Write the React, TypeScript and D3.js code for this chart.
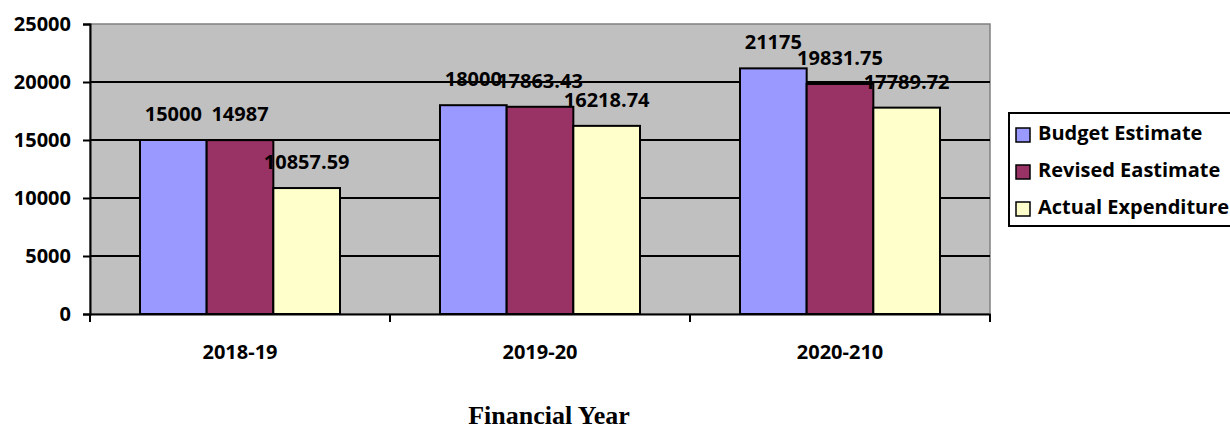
import { useEffect, useRef } from "react";
import * as d3 from "d3";

const YEARS = ["2018-19", "2019-20", "2020-210"];
const SERIES = ["Budget Estimate", "Revised Eastimate", "Actual Expenditure"];
const BUDGET = [15000, 18000, 21175];
const REVISED = [14987, 17863.43, 19831.75];
const ACTUAL = [10857.59, 16218.74, 17789.72];
const LABELS = [
  ["15000", "14987", "10857.59"],
  ["18000", "17863.43", "16218.74"],
  ["21175", "19831.75", "17789.72"],
];
const Y_TICKS = [0, 5000, 10000, 15000, 20000, 25000];
const COLORS = ["#9999FF", "#993366", "#FFFFCC"];

const W = 1230;
const H = 430;
const FONT = "'Open Sans', Lato, sans-serif";

export default function App() {
  const svgRef = useRef<SVGSVGElement>(null);

  useEffect(() => {
    if (!svgRef.current) return;
    const svg = d3.select(svgRef.current);
    svg.selectAll("*").remove();

    const left = 90;
    const right = 990;
    const top = 24;
    const bottom = 314;

    const x0 = d3.scaleBand().domain(YEARS).range([left, right]).paddingInner(1 / 3).paddingOuter(1 / 6);
    const x1 = d3.scaleBand().domain(SERIES).range([0, x0.bandwidth()]);
    const y = d3.scaleLinear().domain([0, 25000]).range([bottom, top]);

    const rows = YEARS.map((yr, i) => ({ yr, vals: [BUDGET[i], REVISED[i], ACTUAL[i]], labels: LABELS[i] }));

    // plot area
    svg.append("rect")
      .attr("x", left).attr("y", top)
      .attr("width", right - left).attr("height", bottom - top)
      .attr("fill", "#C0C0C0").attr("stroke", "#808080").attr("stroke-width", 1.5);

    // gridlines
    svg.append("g").selectAll("line")
      .data(Y_TICKS.filter((t) => t > 0 && t < 25000))
      .enter().append("line")
      .attr("x1", left).attr("x2", right)
      .attr("y1", (d) => y(d)).attr("y2", (d) => y(d))
      .attr("stroke", "#000").attr("stroke-width", 2);

    // bars
    const groups = svg.append("g").selectAll("g")
      .data(rows).enter().append("g")
      .attr("transform", (d) => `translate(${x0(d.yr)},0)`);

    groups.selectAll("rect")
      .data((d) => d.vals.map((v, j) => ({ v, s: SERIES[j], j })))
      .enter().append("rect")
      .attr("x", (d) => x1(d.s)!)
      .attr("y", (d) => y(d.v))
      .attr("width", x1.bandwidth())
      .attr("height", (d) => y(0) - y(d.v))
      .attr("fill", (d) => COLORS[d.j])
      .attr("stroke", "#000").attr("stroke-width", 2);

    groups.selectAll("text")
      .data((d) => d.vals.map((v, j) => ({ v, s: SERIES[j], label: d.labels[j] })))
      .enter().append("text")
      .attr("x", (d) => x1(d.s)! + x1.bandwidth() / 2)
      .attr("y", (d) => y(d.v) - 19)
      .attr("text-anchor", "middle")
      .style("font-family", FONT).style("font-weight", "bold").style("font-size", "20px")
      .text((d) => d.label);

    // y axis
    const yAxis = svg.append("g")
      .attr("transform", `translate(${left},0)`)
      .call(d3.axisLeft(y).tickValues(Y_TICKS).tickSize(7).tickPadding(12).tickFormat((d) => String(d)));
    yAxis.select(".domain").attr("stroke", "#000").attr("stroke-width", 2);
    yAxis.selectAll(".tick line").attr("stroke", "#000").attr("stroke-width", 2);
    yAxis.selectAll("text")
      .style("font-family", FONT).style("font-weight", "bold").style("font-size", "20px").attr("fill", "#000");

    // x axis
    const xAxis = svg.append("g")
      .attr("transform", `translate(0,${bottom})`)
      .call(d3.axisBottom(x0).tickSize(0).tickPadding(0));
    xAxis.select(".domain").attr("stroke", "#000").attr("stroke-width", 2);
    xAxis.selectAll("text")
      .attr("y", 45).attr("dy", null)
      .style("font-family", FONT).style("font-weight", "bold").style("font-size", "20px").attr("fill", "#000");
    const step = x0.step();
    xAxis.append("g").selectAll("line")
      .data(d3.range(YEARS.length + 1))
      .enter().append("line")
      .attr("x1", (i) => left + i * step).attr("x2", (i) => left + i * step)
      .attr("y1", 0).attr("y2", 8)
      .attr("stroke", "#000").attr("stroke-width", 2);

    // axis title
    svg.append("text")
      .attr("x", 549).attr("y", 424)
      .attr("text-anchor", "middle")
      .style("font-family", "'Liberation Serif', 'Times New Roman', serif")
      .style("font-weight", "bold").style("font-size", "26px")
      .text("Financial Year");

    // legend
    const lg = svg.append("g").attr("transform", "translate(1009,113)");
    lg.append("rect").attr("x", 0).attr("y", 0).attr("width", 240).attr("height", 113)
      .attr("fill", "#fff").attr("stroke", "#000").attr("stroke-width", 2);
    const items = lg.selectAll("g.item").data(SERIES).enter().append("g")
      .attr("transform", (_, i) => `translate(0,${27 + i * 37})`);
    items.append("rect")
      .attr("x", 7).attr("y", -12).attr("width", 14).attr("height", 14)
      .attr("fill", (_, i) => COLORS[i]).attr("stroke", "#000").attr("stroke-width", 1.5);
    items.append("text")
      .attr("x", 29).attr("y", 0)
      .style("font-family", FONT).style("font-weight", "bold").style("font-size", "20px")
      .text((d) => d);
  }, []);

  return (
    <div style={{ position: "fixed", left: 0, top: 0, width: W, height: H, background: "#fff" }}>
      <svg ref={svgRef} width={W} height={H} style={{ display: "block" }} />
    </div>
  );
}
